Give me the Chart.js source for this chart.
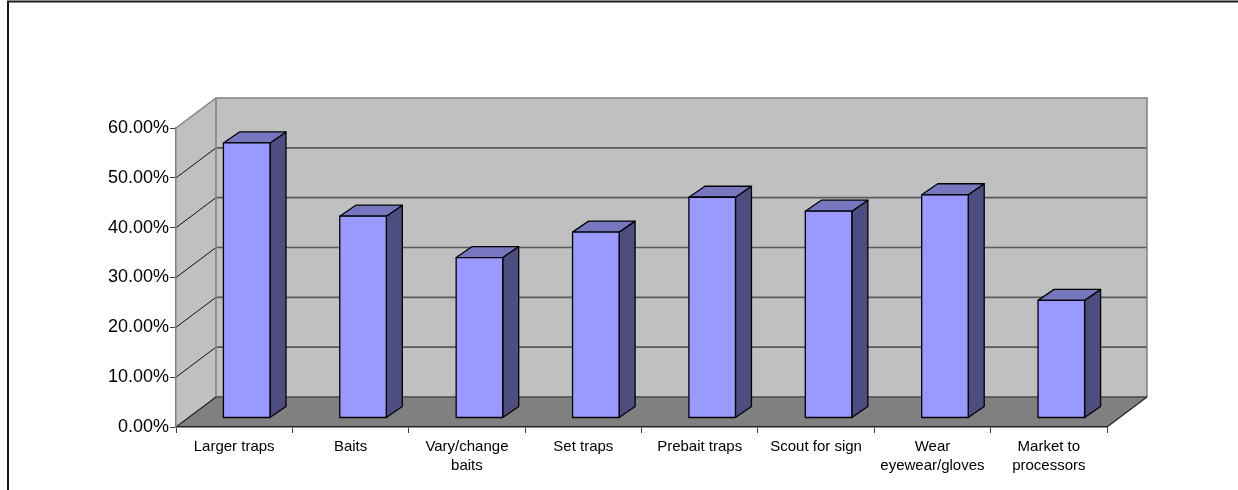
<!DOCTYPE html>
<html>
<head>
<meta charset="utf-8">
<script src="https://cdn.jsdelivr.net/npm/chart.js@4/dist/chart.umd.min.js"></script>
<style>
  html, body { margin: 0; padding: 0; background: #fff; }
  #box { width: 1238px; height: 490px; }
</style>
</head>
<body>
<div id="box"><canvas id="trapChart" width="1238" height="490"></canvas></div>
<script>
// DATA /////////////////////////////////////////////////
const categorias = [
  'Larger traps',
  'Baits',
  ['Vary/change', 'baits'],
  'Set traps',
  'Prebait traps',
  'Scout for sign',
  ['Wear', 'eyewear/gloves'],
  ['Market to', 'processors']
];
const porcentajes = [55.2, 40.5, 32.2, 37.3, 44.3, 41.5, 44.8, 23.6];
const yMax = 60;
const yPaso = 10;

// 3D look (Excel style) ////////////////////////////////
const WALL_DX = 40, WALL_DY = -30;   // profundidad del fondo
const BAR_OX = 12.5, BAR_OY = -9;    // donde empieza la barra en profundidad
const BAR_DX = 16, BAR_DY = -11;     // grosor de la barra

function poly(ctx, pts, fill, stroke, lw) {
  ctx.beginPath();
  ctx.moveTo(pts[0][0], pts[0][1]);
  for (let i = 1; i < pts.length; i++) ctx.lineTo(pts[i][0], pts[i][1]);
  ctx.closePath();
  if (fill) { ctx.fillStyle = fill; ctx.fill(); }
  if (stroke) { ctx.strokeStyle = stroke; ctx.lineWidth = lw || 1; ctx.stroke(); }
}

// paredes, piso y rejilla del fondo
const paredes = {
  id: 'paredes',
  beforeDraw(chart) {
    const ctx = chart.ctx;
    const a = chart.chartArea;
    const y = chart.scales.y;
    ctx.save();

    // marco exterior
    ctx.strokeStyle = '#1a1a1a';
    ctx.lineWidth = 2;
    ctx.beginPath();
    ctx.moveTo(8, 500); ctx.lineTo(8, 1.5); ctx.lineTo(1240, 1.5);
    ctx.stroke();

    // pared izquierda
    poly(ctx, [[a.left, a.top], [a.left + WALL_DX, a.top + WALL_DY],
               [a.left + WALL_DX, a.bottom + WALL_DY], [a.left, a.bottom]], '#c0c0c0');
    // pared de fondo
    poly(ctx, [[a.left + WALL_DX, a.top + WALL_DY], [a.right + WALL_DX, a.top + WALL_DY],
               [a.right + WALL_DX, a.bottom + WALL_DY], [a.left + WALL_DX, a.bottom + WALL_DY]], '#c0c0c0');

    // rejilla
    for (let v = yPaso; v < yMax; v += yPaso) {
      const py = y.getPixelForValue(v);
      ctx.strokeStyle = '#111';
      ctx.lineWidth = 1;
      ctx.beginPath();
      ctx.moveTo(a.left, py); ctx.lineTo(a.left + WALL_DX, py + WALL_DY);
      ctx.stroke();
      ctx.strokeStyle = '#5a5a5a';
      ctx.lineWidth = 1.6;
      ctx.beginPath();
      ctx.moveTo(a.left + WALL_DX, py + WALL_DY); ctx.lineTo(a.right + WALL_DX, py + WALL_DY);
      ctx.stroke();
    }

    // bordes de las paredes
    ctx.strokeStyle = '#808080';
    ctx.lineWidth = 1.5;
    ctx.beginPath();
    ctx.moveTo(a.left, a.top); ctx.lineTo(a.left + WALL_DX, a.top + WALL_DY);
    ctx.lineTo(a.right + WALL_DX, a.top + WALL_DY); ctx.lineTo(a.right + WALL_DX, a.bottom + WALL_DY);
    ctx.moveTo(a.left + WALL_DX, a.top + WALL_DY); ctx.lineTo(a.left + WALL_DX, a.bottom + WALL_DY);
    ctx.stroke();

    // piso
    poly(ctx, [[a.left, a.bottom], [a.left + WALL_DX, a.bottom + WALL_DY],
               [a.right + WALL_DX, a.bottom + WALL_DY], [a.right, a.bottom]], '#808080');
    ctx.strokeStyle = '#4a4a4a';
    ctx.lineWidth = 1.6;
    ctx.beginPath();
    ctx.moveTo(a.left + WALL_DX, a.bottom + WALL_DY); ctx.lineTo(a.right + WALL_DX, a.bottom + WALL_DY);
    ctx.stroke();
    ctx.strokeStyle = '#222';
    ctx.lineWidth = 1.2;
    ctx.beginPath();
    ctx.moveTo(a.left, a.bottom); ctx.lineTo(a.left + WALL_DX, a.bottom + WALL_DY);
    ctx.moveTo(a.right, a.bottom); ctx.lineTo(a.right + WALL_DX, a.bottom + WALL_DY);
    ctx.stroke();
    ctx.restore();
  }
};

// barras en 3D a partir de los elementos del chart
const barras3D = {
  id: 'barras3D',
  afterDatasetsDraw(chart) {
    const ctx = chart.ctx;
    const meta = chart.getDatasetMeta(0);
    ctx.save();
    ctx.lineJoin = 'round';
    meta.data.forEach((bar) => {
      const x0 = bar.x - bar.width / 2 + BAR_OX;
      const x1 = bar.x + bar.width / 2 + BAR_OX;
      const t = bar.y + BAR_OY;
      const b = bar.base + BAR_OY;
      // lado
      poly(ctx, [[x1, t], [x1 + BAR_DX, t + BAR_DY], [x1 + BAR_DX, b + BAR_DY], [x1, b]], '#4d4d80', '#000', 1.3);
      // tapa
      poly(ctx, [[x0, t], [x0 + BAR_DX, t + BAR_DY], [x1 + BAR_DX, t + BAR_DY], [x1, t]], '#7777c0', '#000', 1.3);
      // frente
      poly(ctx, [[x0, t], [x1, t], [x1, b], [x0, b]], '#9999ff', '#000', 1.3);
    });
    ctx.restore();
  }
};

// CHART ////////////////////////////////////////////////
const trapChart = new Chart(document.querySelector('#trapChart'), {
  type: 'bar',
  data: {
    labels: categorias,
    datasets: [{
      data: porcentajes,
      backgroundColor: 'rgba(0,0,0,0)',
      borderWidth: 0,
      barPercentage: 0.4,
      categoryPercentage: 1
    }]
  },
  options: {
    responsive: false,
    animation: false,
    events: [],
    layout: { padding: { top: 128, right: 131, left: 0, bottom: 0 } },
    plugins: { legend: { display: false }, tooltip: { enabled: false } },
    scales: {
      x: {
        afterFit: (s) => { s.height = 63; },
        grid: { drawOnChartArea: false, drawTicks: true, tickLength: 6, color: '#404040' },
        border: { display: true, color: '#222', width: 1.5 },
        ticks: {
          color: '#000', padding: 4, maxRotation: 0, autoSkip: false,
          font: { family: 'Liberation Sans, Arial, sans-serif', size: 15, lineHeight: 1.27 }
        }
      },
      y: {
        min: 0,
        max: yMax,
        afterFit: (s) => { s.width = 176; },
        grid: { drawOnChartArea: false, drawTicks: true, tickLength: 6, color: '#404040' },
        border: { display: true, color: '#808080', width: 1.5 },
        ticks: {
          stepSize: yPaso, color: '#000', padding: 1,
          font: { family: 'Liberation Sans, Arial, sans-serif', size: 18 },
          callback: (v) => v.toFixed(2) + '%'
        }
      }
    }
  },
  plugins: [paredes, barras3D]
});
</script>
</body>
</html>
